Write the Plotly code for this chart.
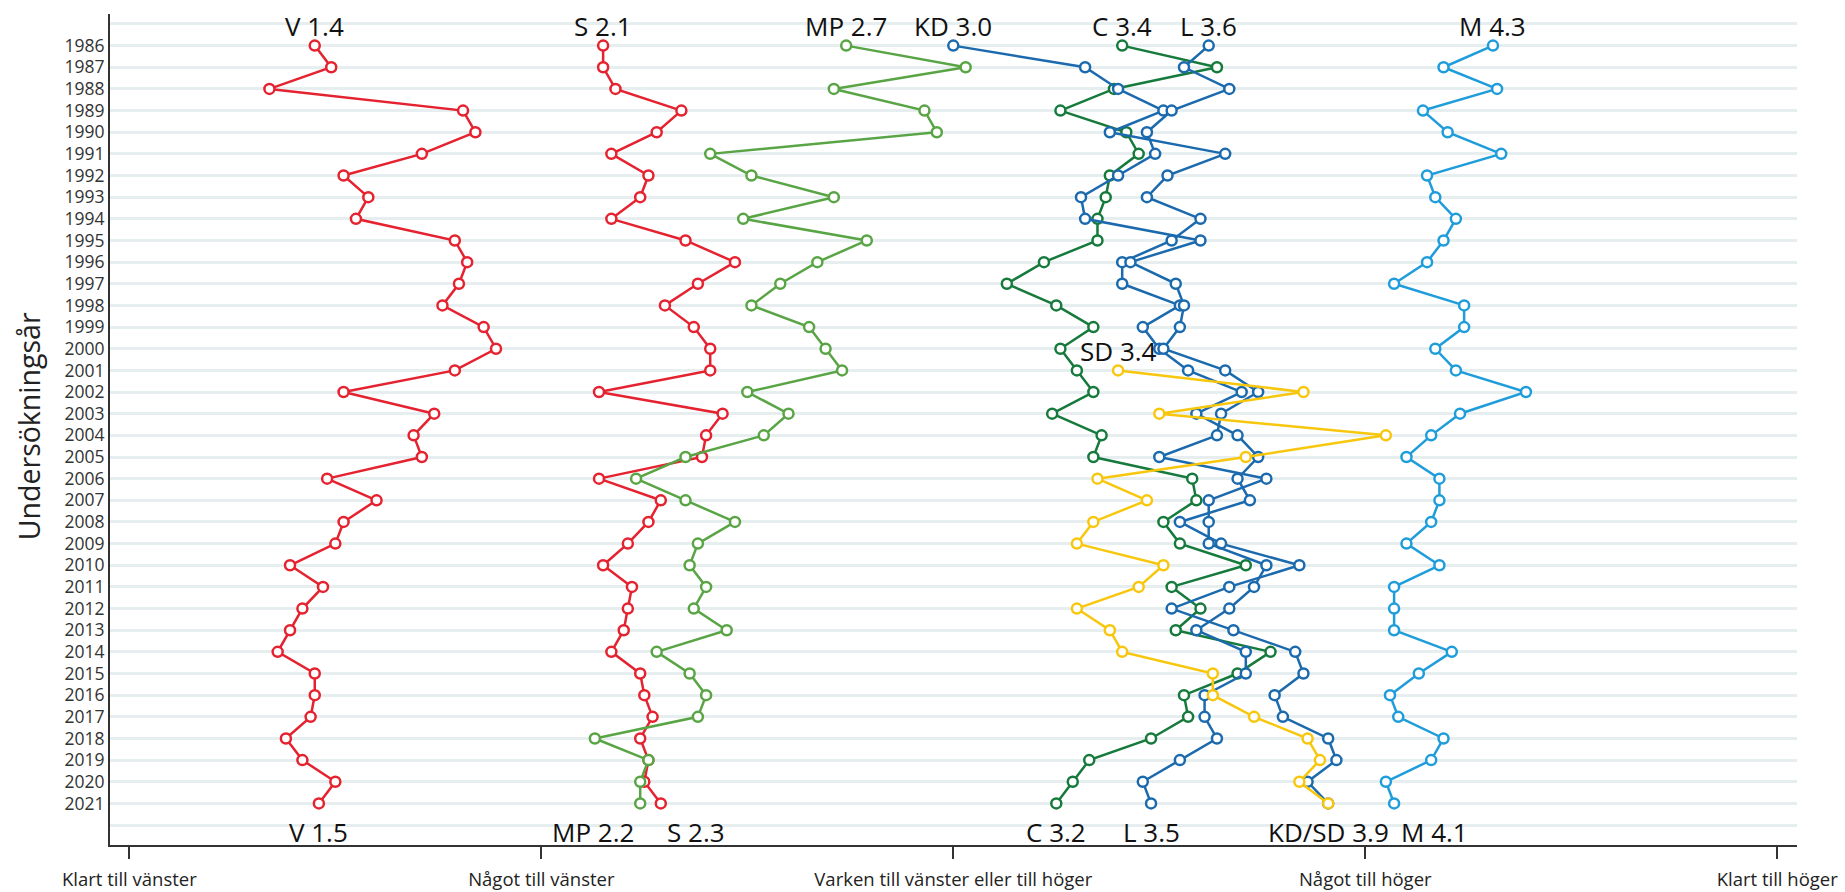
import plotly.graph_objects as go

# ---------------- data ----------------
years = list(range(1986, 2022))
sd_years = list(range(2001, 2022))

V = [1.45, 1.49, 1.34, 1.81, 1.84, 1.71, 1.52, 1.58, 1.55, 1.79, 1.82, 1.80, 1.76, 1.86, 1.89, 1.79, 1.52, 1.74,
     1.69, 1.71, 1.48, 1.60, 1.52, 1.50, 1.39, 1.47, 1.42, 1.39, 1.36, 1.45, 1.45, 1.44, 1.38, 1.42, 1.50, 1.46]
S = [2.15, 2.15, 2.18, 2.34, 2.28, 2.17, 2.26, 2.24, 2.17, 2.35, 2.47, 2.38, 2.30, 2.37, 2.41, 2.41, 2.14, 2.44,
     2.40, 2.39, 2.14, 2.29, 2.26, 2.21, 2.15, 2.22, 2.21, 2.20, 2.17, 2.24, 2.25, 2.27, 2.24, 2.26, 2.25, 2.29]
MP = [2.74, 3.03, 2.71, 2.93, 2.96, 2.41, 2.51, 2.71, 2.49, 2.79, 2.67, 2.58, 2.51, 2.65, 2.69, 2.73, 2.50, 2.60,
      2.54, 2.35, 2.23, 2.35, 2.47, 2.38, 2.36, 2.40, 2.37, 2.45, 2.28, 2.36, 2.40, 2.38, 2.13, 2.26, 2.24, 2.24]
C = [3.41, 3.64, 3.39, 3.26, 3.42, 3.45, 3.38, 3.37, 3.35, 3.35, 3.22, 3.13, 3.25, 3.34, 3.26, 3.30, 3.34, 3.24,
     3.36, 3.34, 3.58, 3.59, 3.51, 3.55, 3.71, 3.53, 3.60, 3.54, 3.77, 3.69, 3.56, 3.57, 3.48, 3.33, 3.29, 3.25]
KD = [3.00, 3.32, 3.40, 3.51, 3.38, 3.66, 3.52, 3.47, 3.60, 3.53, 3.41, 3.41, 3.55, 3.46, 3.50, 3.57, 3.70, 3.59,
      3.69, 3.74, 3.69, 3.72, 3.55, 3.65, 3.84, 3.67, 3.53, 3.68, 3.83, 3.85, 3.78, 3.80, 3.91, 3.93, 3.86, 3.91]
L = [3.62, 3.56, 3.67, 3.53, 3.47, 3.49, 3.40, 3.31, 3.32, 3.60, 3.43, 3.54, 3.56, 3.55, 3.51, 3.66, 3.74, 3.65,
     3.64, 3.50, 3.76, 3.62, 3.62, 3.62, 3.76, 3.73, 3.67, 3.59, 3.71, 3.71, 3.61, 3.61, 3.64, 3.55, 3.46, 3.48]
M = [4.31, 4.19, 4.32, 4.14, 4.20, 4.33, 4.15, 4.17, 4.22, 4.19, 4.15, 4.07, 4.24, 4.24, 4.17, 4.22, 4.39, 4.23,
     4.16, 4.10, 4.18, 4.18, 4.16, 4.10, 4.18, 4.07, 4.07, 4.07, 4.21, 4.13, 4.06, 4.08, 4.19, 4.16, 4.05, 4.07]
SD = [3.40, 3.85, 3.50, 4.05, 3.71, 3.35, 3.47, 3.34, 3.30, 3.51, 3.45, 3.30, 3.38, 3.41, 3.63, 3.63, 3.73, 3.86,
      3.89, 3.84, 3.91]

x_tickvals = [1, 2, 3, 4, 5]
x_ticktext = ["Klart till vänster", "Något till vänster", "Varken till vänster eller till höger",
              "Något till höger", "Klart till höger"]

top_labels = {"V": "V 1.4", "S": "S 2.1", "MP": "MP 2.7", "KD": "KD 3.0", "C": "C 3.4", "L": "L 3.6",
              "M": "M 4.3", "SD": "SD 3.4"}
bottom_labels = {"V": "V 1.5", "MP": "MP 2.2", "S": "S 2.3", "C": "C 3.2", "L": "L 3.5",
                 "KD": "KD/SD 3.9", "M": "M 4.1"}

# ---------------- styles ----------------
colors = {"V": "#e5222f", "S": "#e5222f", "MP": "#59a545", "C": "#167a3c", "KD": "#1b6aae",
          "L": "#1b6aae", "M": "#1f9ddb", "SD": "#f8c70d"}
series = [("V", years, V), ("S", years, S), ("MP", years, MP), ("C", years, C),
          ("KD", years, KD), ("L", years, L), ("M", years, M), ("SD", sd_years, SD)]
bottom_xshift = {"MP": -47, "S": 35, "M": 40}
FONT = "Open Sans, Noto Sans, DejaVu Sans, sans-serif"

fig = go.Figure()
for name, yrs, vals in series:
    fig.add_trace(go.Scatter(
        x=vals, y=yrs, mode="lines+markers", name=name,
        line=dict(color=colors[name], width=2.5),
        marker=dict(symbol="circle", size=10, color="white",
                    line=dict(color=colors[name], width=2.5)),
        showlegend=False, hoverinfo="x+y+name"))

annotations = []
for name, yrs, vals in series:
    annotations.append(dict(x=vals[0], y=yrs[0] - 0.9, xref="x", yref="y", text=top_labels[name],
                            showarrow=False, xanchor="center", yanchor="middle",
                            font=dict(family=FONT, size=26, color="#111111")))
    if name in bottom_labels:
        annotations.append(dict(x=vals[-1], y=yrs[-1] + 1.3, xref="x", yref="y", text=bottom_labels[name],
                                showarrow=False, xanchor="center", yanchor="middle",
                                xshift=bottom_xshift.get(name, 0),
                                font=dict(family=FONT, size=26, color="#111111")))

annotations.append(dict(x=-0.048, y=0.504, xref="paper", yref="paper", text="Undersökningsår",
                        textangle=-90, showarrow=False, xanchor="center", yanchor="middle",
                        font=dict(family=FONT, size=28.5, color="#222222")))

y_tickvals = [years[0] - 1] + years + [years[-1] + 1]
y_ticktext = [""] + [str(y) for y in years] + [""]

fig.update_layout(
    width=1845, height=892,
    margin=dict(l=110, r=48, t=14, b=47, autoexpand=False),
    plot_bgcolor="white", paper_bgcolor="white",
    font=dict(family=FONT, color="#222222"),
    annotations=annotations,
    xaxis=dict(range=[0.953, 5.048], tickvals=x_tickvals, ticktext=x_ticktext,
               ticks="outside", ticklen=12, tickwidth=2, tickcolor="#333333",
               showline=True, linecolor="#333333", linewidth=2, automargin=False,
               showgrid=False, zeroline=False, ticklabelstandoff=5,
               tickfont=dict(family=FONT, size=18.5, color="#222222")),
    yaxis=dict(range=[2022.92, 1984.54], tickvals=y_tickvals, ticktext=y_ticktext,
               ticks="", showline=True, linecolor="#333333", linewidth=2, automargin=False,
               showgrid=True, gridcolor="#e7eef0", gridwidth=3, zeroline=False,
               tickfont=dict(family=FONT, size=17.5, color="#333333")),
)

fig.write_html("out.html", config={"displayModeBar": False})

with open("out.html", "r", encoding="utf-8") as f:
    html = f.read()
html = html.replace("<head>", "<head><style>html,body{margin:0;padding:0;overflow:hidden;}</style>", 1)
with open("out.html", "w", encoding="utf-8") as f:
    f.write(html)
